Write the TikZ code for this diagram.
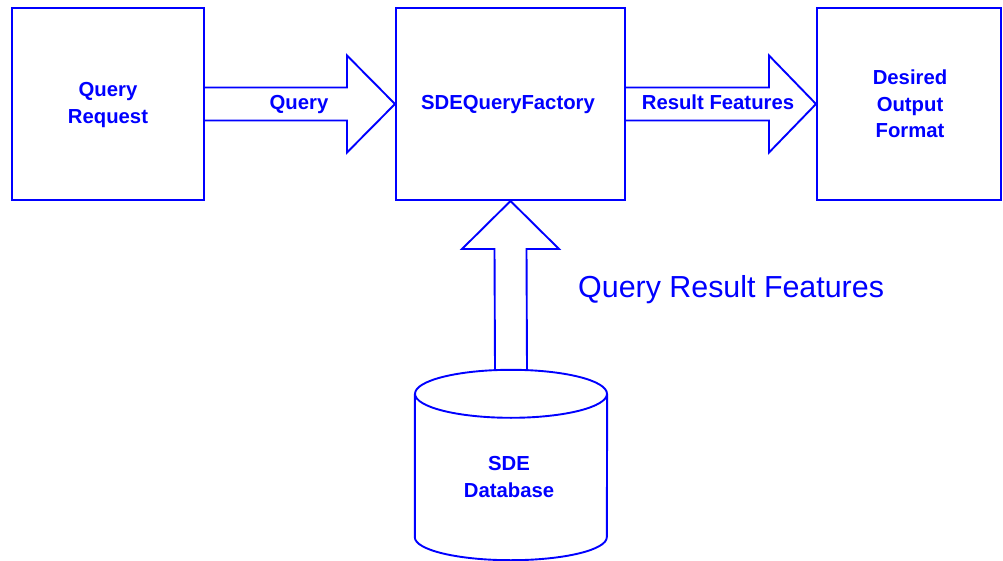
\documentclass[tikz,border=0pt]{standalone}
\usepackage{fontspec}
\setmainfont{Liberation Sans}
\usetikzlibrary{calc}
\definecolor{dblue}{RGB}{0,0,255}
\begin{document}
\begin{tikzpicture}[x=1pt,y=-1pt,
  box/.style={draw=dblue, line width=2pt, inner sep=0pt},
  lbl/.style={text=dblue, font=\bfseries\fontsize{20.3}{27}\selectfont, inner sep=0pt, align=center},
  blockarrow/.style={draw=dblue, line width=1.9pt, line join=miter},
  cyl/.style={draw=dblue, line width=1.9pt},
]
\useasboundingbox (0,0) rectangle (1003,561);
\fill[white] (0,0) rectangle (1003,561);

% boxes
\node[box, minimum width=192pt, minimum height=192pt] (req) at (108,104) {};
\node[box, minimum width=229pt, minimum height=192pt] (fac) at (510.5,104) {};
\node[box, minimum width=184pt, minimum height=192pt] (out) at (909,104) {};
\node[lbl] (reqt) at (108,105.5) {Query\\Request};
\node[lbl] (fact) at (508,104.5) {SDEQueryFactory};
\node[lbl, font=\bfseries\fontsize{20.3}{26.5}\selectfont] (outt) at (910,104) {Desired\\Output\\Format};

% database
\node[minimum width=192pt, minimum height=190pt, inner sep=0pt] (db) at (511,465) {};
\node[lbl] (dbt) at (509,477.5) {SDE\\Database};
\draw[cyl] ($(db.north)+(0,24)$) ellipse [x radius=96pt, y radius=24pt];
\draw[cyl] ($(db.north west)+(0,24)$) -- ($(db.south west)+(0,-23)$)
  arc[start angle=180, end angle=360, x radius=96pt, y radius=23pt]
  -- ($(db.north east)+(0,24)$);

% arrow 1: req -> fac
\draw[blockarrow] ($(req.east)+(0,-16.5)$) -- ($(fac.west)+(-48,-16.5)$)
  -- ($(fac.west)+(-48,-48.5)$) -- (fac.west) -- ($(fac.west)+(-48,48.5)$)
  -- ($(fac.west)+(-48,16.5)$) -- ($(req.east)+(0,16.5)$);
\node[lbl] (q1) at (299,104.5) {Query};

% arrow 2: fac -> out
\draw[blockarrow] ($(fac.east)+(0,-16.5)$) -- ($(out.west)+(-47,-16.5)$)
  -- ($(out.west)+(-47,-48.5)$) -- (out.west) -- ($(out.west)+(-47,48.5)$)
  -- ($(out.west)+(-47,16.5)$) -- ($(fac.east)+(0,16.5)$);
\node[lbl] (rf) at (718,102) {Result Features};

% arrow 3: db -> fac
\draw[blockarrow] ($(db.north)+(-16,0)$) -- ($(fac.south)+(-16,48)$)
  -- ($(fac.south)+(-48.5,48)$) -- (fac.south) -- ($(fac.south)+(48.5,48)$)
  -- ($(fac.south)+(16,48)$) -- ($(db.north)+(16,0)$);
\node[anchor=base west, text=dblue, font=\fontsize{30.4}{36}\selectfont, inner sep=0pt] (qrf) at (578,297) {Query Result Features};
\end{tikzpicture}
\end{document}
